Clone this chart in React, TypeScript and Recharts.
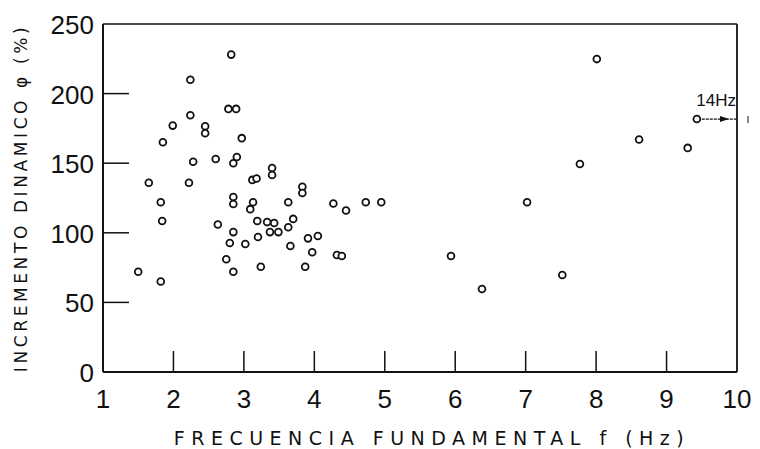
import { ScatterChart, Scatter, XAxis, YAxis, ReferenceLine, Label } from "recharts";

// frecuencia fundamental (Hz) / incremento dinámico (%)
const FREQ = [
	1.5, 1.65, 1.82, 1.84, 1.82, 1.85, 1.99, 2.22, 2.24, 2.24, 2.28, 2.45, 2.45,
	2.6, 2.63, 2.75, 2.8, 2.82, 2.78, 2.89, 2.85, 2.85, 2.85, 2.85, 2.9, 2.85,
	2.97, 3.02, 3.09, 3.13, 3.12, 3.18, 3.19, 3.2, 3.24, 3.33, 3.37, 3.4, 3.4,
	3.43, 3.49, 3.63, 3.63, 3.66, 3.7, 3.83, 3.83, 3.87, 3.91, 3.97, 4.05, 4.27,
	4.32, 4.39, 4.45, 4.73, 4.95, 5.94, 6.38, 7.02, 7.52, 7.77, 8.01, 8.61, 9.3,
	9.43,
];
const INCR = [
	72, 136, 122, 108.5, 65, 165, 177, 136, 210, 184.5, 151, 176.5, 171.5, 153,
	106, 81, 92.7, 228, 189, 189, 125.7, 120.7, 100.5, 72, 154.5, 150, 168, 92,
	117, 122, 138, 139, 108.5, 97, 75.6, 107.7, 100.5, 146.5, 141.5, 107, 100.5,
	122, 104, 90.5, 110, 133, 128.6, 75.6, 96, 86, 97.7, 121, 84, 83.3, 116, 122,
	122, 83.3, 59.6, 122, 69.7, 149.4, 224.8, 167, 161, 181.7,
];

const X_TICKS = [1, 2, 3, 4, 5, 6, 7, 8, 9, 10];
const Y_TICKS = [0, 50, 100, 150, 200, 250];

// punto de 14 Hz fuera de escala
const OFF_SCALE = { label: "14Hz", from: 9.5, to: 10, y: 181.7 };

const points = FREQ.map((f, i) => ({ f, phi: INCR[i] }));

const INK = "#111";
const TICK_FONT = "'Liberation Sans', Arial, sans-serif";

function XTick(props: any) {
	const { x, y, payload } = props;
	const v = payload.value;
	return (
		<g>
			{v > 1 && v < 10 && (
				<line x1={x} x2={x} y1={y} y2={y - 21} stroke={INK} strokeWidth={1.5} />
			)}
			<text
				x={x}
				y={y + 27}
				textAnchor="middle"
				dominantBaseline="central"
				fontFamily={TICK_FONT}
				fontSize={26}
				fill={INK}
			>
				{v}
			</text>
		</g>
	);
}

function YTick(props: any) {
	const { x, y, payload } = props;
	const v = payload.value;
	return (
		<g>
			{v > 0 && v < 250 && (
				<line x1={x} x2={x + 26} y1={y} y2={y} stroke={INK} strokeWidth={1.5} />
			)}
			<text
				x={x - 9}
				y={y + 1}
				textAnchor="end"
				dominantBaseline="central"
				fontFamily={TICK_FONT}
				fontSize={26}
				fill={INK}
			>
				{v}
			</text>
		</g>
	);
}

function Ring(props: any) {
	return (
		<circle
			cx={props.cx}
			cy={props.cy}
			r={3.4}
			fill="#fff"
			stroke={INK}
			strokeWidth={1.8}
		/>
	);
}

function OffScaleArrow(props: any) {
	const { x1, y1, x2, y2 } = props;
	return (
		<g>
			<line
				x1={x1}
				y1={y1}
				x2={x2}
				y2={y2}
				stroke={INK}
				strokeWidth={1.2}
				strokeDasharray="3 1"
			/>
			<polygon
				points={`${x2 - 8},${y2} ${x2 - 17},${y2 - 3} ${x2 - 17},${y2 + 3}`}
				fill={INK}
			/>
			<text
				x={x2 - 1}
				y={y1 - 19}
				textAnchor="end"
				dominantBaseline="central"
				fontFamily={TICK_FONT}
				fontSize={17}
				fill={INK}
			>
				{OFF_SCALE.label}
			</text>
			<line x1={x2 + 11} x2={x2 + 11} y1={y2 - 3} y2={y2 + 4} stroke={INK} strokeWidth={1} />
		</g>
	);
}

const X_TITLE_STYLE = {
	fontFamily: "'DejaVu Sans', sans-serif",
	fontSize: 19,
	letterSpacing: 6.5,
	fill: INK,
};

const Y_TITLE_STYLE = {
	fontFamily: "'DejaVu Sans', sans-serif",
	fontSize: 17,
	letterSpacing: 3.6,
	fill: INK,
};

export default function App() {
	return (
		<div style={{ position: "absolute", left: 0, top: 0, background: "#fff" }}>
			<ScatterChart
				width={760}
				height={449}
				margin={{ top: 24, right: 23, bottom: 47, left: 43 }}
			>
				<XAxis
					type="number"
					dataKey="f"
					domain={[1, 10]}
					ticks={X_TICKS}
					height={30}
					tickSize={0}
					tickMargin={0}
					tickLine={false}
					tick={<XTick />}
					axisLine={{ stroke: INK, strokeWidth: 2 }}
					allowDataOverflow
				>
					<Label
						content={(p: any) => {
							const vb = p.viewBox;
							return (
								<text
									x={vb.x + vb.width / 2 + 12}
									y={vb.y + 66}
									textAnchor="middle"
									dominantBaseline="central"
									style={X_TITLE_STYLE}
								>
									FRECUENCIA  FUNDAMENTAL  f  (Hz)
								</text>
							);
						}}
					/>
				</XAxis>
				<YAxis
					type="number"
					dataKey="phi"
					domain={[0, 250]}
					ticks={Y_TICKS}
					width={60}
					tickSize={0}
					tickMargin={0}
					tickLine={false}
					tick={<YTick />}
					axisLine={{ stroke: INK, strokeWidth: 2 }}
					allowDataOverflow
				>
					<Label
						content={(p: any) => {
							const vb = p.viewBox;
							const cx = 21;
							const cy = vb.y + vb.height / 2;
							return (
								<text
									x={cx}
									y={cy}
									transform={`rotate(-90 ${cx} ${cy})`}
									textAnchor="middle"
									dominantBaseline="central"
									style={Y_TITLE_STYLE}
								>
									INCREMENTO  DINAMICO φ (%)
								</text>
							);
						}}
					/>
				</YAxis>
				<ReferenceLine y={250} stroke={INK} strokeWidth={1.6} ifOverflow="visible" />
				<ReferenceLine x={10} stroke={INK} strokeWidth={1.8} ifOverflow="visible" />
				<ReferenceLine
					segment={[
						{ x: OFF_SCALE.from, y: OFF_SCALE.y },
						{ x: OFF_SCALE.to, y: OFF_SCALE.y },
					]}
					ifOverflow="visible"
					shape={<OffScaleArrow />}
				/>
				<Scatter data={points} shape={<Ring />} isAnimationActive={false} />
			</ScatterChart>
		</div>
	);
}
